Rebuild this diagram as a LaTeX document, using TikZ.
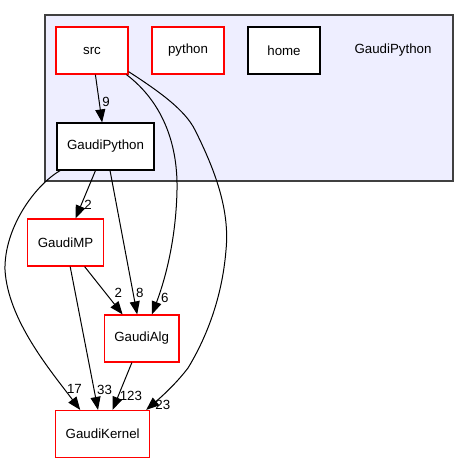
\documentclass[tikz,border=0pt]{standalone}
\usepackage{fontspec}
\setmainfont{Liberation Sans}
\usetikzlibrary{arrows.meta}
\definecolor{clusterfill}{HTML}{EEEEFF}
\definecolor{clusterline}{HTML}{404040}

\begin{document}
\begin{tikzpicture}[
        x=1pt, y=-1pt,
        >={Triangle[length=13pt,width=10pt]},
        node distance=96pt,
        font=\fontsize{13.3}{16}\selectfont,
        dir/.style={draw=red, fill=white, line width=1.2pt, minimum width=72pt, minimum height=47pt, inner xsep=10pt},
        leaf/.style={dir, draw=black},
        num/.style={inner sep=2.5pt, anchor=west},
        link/.style={->, line width=1pt}
        ]
        \fill[white] (0,0) rectangle (470,464);
        \useasboundingbox (0,0) rectangle (470,464);

        % the GaudiPython directory
        \filldraw[fill=clusterfill, draw=clusterline, line width=1.2pt] (45,15) rectangle (453,181);
        \node[dir] (src) at (92,50.5) {src};
        \node[dir] (python) [right of = src] {python};
        \node[leaf] (home) [right of = python] {home};
        \node (title) at (393,50.5) {GaudiPython};
        \node[leaf] (gp) at (105.5,146.5) {GaudiPython};

        % dependencies
        \node[dir] (mp) at (65.5,242.5) {GaudiMP};
        \node[dir] (alg) at (141.7,338.5) {GaudiAlg};
        \node[dir] (kernel) at (102.7,434) {GaudiKernel};

        \path[link]
              (src) edge node[num, pos=.58] {9} (gp)
              (gp) edge node[num, pos=.71] {2} (mp)
              (gp) edge node[num, pos=.85] {8} (alg)
              (mp) edge node[num, pos=.71, anchor=south west] {2} (alg)
              (mp) edge node[num, pos=.86] {33} (kernel)
              (alg) edge node[num, pos=.7, inner sep=1pt] {123} (kernel);

        \draw[link] (gp.208) .. controls (35,185) and (4,228) .. (5,270)
              .. controls (8,320) and (50,370) .. (kernel.133) node[num, pos=.83] {17};
        \draw[link] (src.-35) .. controls (160,100) and (178,140) .. (177,190)
              .. controls (176,240) and (165,280) .. (alg.67) node[num, pos=.84] {6};
        \draw[link] (src.-30) .. controls (160,92) and (185,110) .. (195,130)
              .. controls (215,170) and (230,210) .. (226,250)
              .. controls (222,300) and (205,340) .. (188,368)
              .. controls (175,385) and (160,398) .. (kernel.29) node[num, pos=.85] {23};
\end{tikzpicture}
\end{document}
